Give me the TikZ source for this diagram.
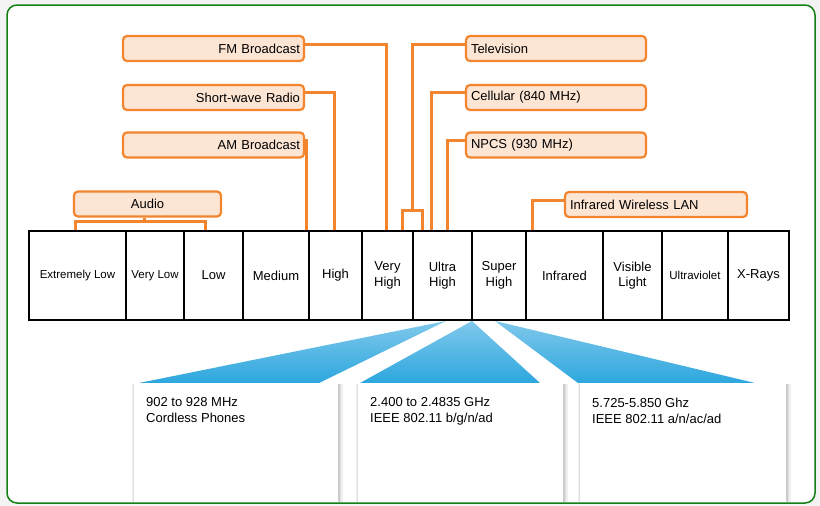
\documentclass[tikz,border=0pt]{standalone}
\usepackage{fontspec}
\setmainfont{Liberation Sans}
\usetikzlibrary{calc}
\definecolor{org}{RGB}{242,133,45}
\definecolor{peach}{RGB}{253,229,212}
\definecolor{frm}{RGB}{20,128,20}
\definecolor{fanT}{RGB}{128,200,235}
\definecolor{fanB}{RGB}{45,167,222}
\definecolor{outside}{RGB}{243,243,243}
\pgfdeclarelayer{bg}
\pgfdeclarelayer{mid}
\pgfsetlayers{bg,mid,main}
\tikzset{
  ltag/.style={draw=org, fill=peach, line width=2.2pt, rounded corners=4pt,
    minimum height=25pt, inner xsep=4pt, inner ysep=0pt, text width=173pt,
    align=right, font=\fontsize{13}{15}\selectfont},
  rtag/.style={draw=org, fill=peach, line width=2.2pt, rounded corners=4pt,
    minimum height=25pt, inner xsep=5pt, inner ysep=0pt, text width=#1,
    align=left, font=\fontsize{13}{15}\selectfont},
  ctag/.style={draw=org, fill=peach, line width=2.2pt, rounded corners=4pt,
    minimum height=25pt, minimum width=#1, inner sep=0pt,
    font=\fontsize{13}{15}\selectfont},
  cell/.style={draw=black, line width=2.2pt, minimum height=89pt, minimum width=#1,
    inner sep=1pt, align=center, font=\fontsize{13}{15.5}\selectfont},
  conn/.style={draw=org, line width=3pt},
  bbox/.style={fill=white, minimum height=119pt, minimum width=#1, inner sep=0pt, anchor=north west},
  btxt/.style={anchor=north west, inner sep=0pt, align=left, font=\fontsize{13}{16}\selectfont},
}
\begin{document}
\begin{tikzpicture}[x=1pt,y=-1pt]
\useasboundingbox (0,0) rectangle (820,506);
\begin{pgfonlayer}{bg}
  \fill[outside] (0,0) rectangle (820,506);
  \fill[white, rounded corners=10pt] (7,5) rectangle (815,503);
\end{pgfonlayer}

% spectrum cells
\node[cell=97pt] (el) at (77.5,275.5) {\fontsize{11.5}{14}\selectfont Extremely Low};
\node[cell=58pt] (vl) at (155,275.5) {\fontsize{11.5}{14}\selectfont Very Low};
\node[cell=59pt] (lo) at (213.5,275.5) {Low};
\node[cell=66pt] (me) at (276,275.5) {Medium};
\node[cell=53pt] (hi) at (335.5,275.5) {High};
\node[cell=51pt] (vh) at (387.5,275.5) {Very\\High};
\node[cell=59pt] (uh) at (442.5,275.5) {Ultra\\High};
\node[cell=54pt] (sh) at (499,275.5) {Super\\High};
\node[cell=77pt] (ir) at (564.5,275.5) {Infrared};
\node[cell=59pt] (vi) at (632.5,275.5) {Visible\\Light};
\node[cell=66pt] (uv) at (695,275.5) {\fontsize{11.5}{14}\selectfont Ultraviolet};
\node[cell=61pt] (xr) at (758.5,275.5) {X-Rays};

% tags
\node[ltag] (fm) at (213.5,48.5) {FM Broadcast};
\node[ltag] (sw) at (213.5,97.5) {Short-wave Radio};
\node[ltag] (am) at (213.5,145) {AM Broadcast};
\node[rtag=170pt] (tv) at (556,48.5) {Television};
\node[rtag=170pt] (ce) at (556,97.5) {Cellular (840 MHz)};
\node[rtag=170pt] (np) at (556,145) {NPCS (930 MHz)};
\node[ctag=147pt] (au) at (147.5,204) {Audio};
\node[rtag=172pt] (irl) at (656,204.5) {Infrared Wireless LAN};

\coordinate (tvj) at (412,210.5);
\coordinate (auj) at (144,221);

\begin{pgfonlayer}{mid}
  \draw[conn] ($(fm.east)+(0,-4.5)$) -| ($(vh.north)+(-1.5,0)$);
  \draw[conn] ($(sw.east)+(0,-5)$) -| ($(hi.north)+(-1.5,0)$);
  \draw[conn] ($(am.east)+(0,-5)$) -| ($(hi.north west)+(-1,0)$);
  \draw[conn] ($(tv.west)+(0,-4.5)$) -| (tvj);
  \draw[conn] ($(vh.north east)+(-12,0)$) |- (tvj) -| ($(uh.north west)+(11,0)$);
  \draw[conn] ($(ce.west)+(0,-5)$) -| ($(uh.north west)+(20,0)$);
  \draw[conn] ($(np.west)+(0,-5)$) -| ($(uh.north west)+(36,0)$);
  \draw[conn] ($(irl.west)+(0,-4)$) -| ($(ir.north west)+(8,0)$);
  \draw[conn] (au.south -| auj) -- (auj);
  \draw[conn] ($(el.north west)+(48,0)$) |- (auj) -| ($(lo.north west)+(23,0)$);
\end{pgfonlayer}

% fans
\shade[top color=fanT, bottom color=fanB] (446,321) -- (319,383) -- (139,383) -- cycle;
\shade[top color=fanT, bottom color=fanB] (472,321) -- (540,383) -- (360,383) -- cycle;
\shade[top color=fanT, bottom color=fanB] (495,321) -- (755,383) -- (578,383) -- cycle;

% bottom boxes with soft shadows
\foreach \a/\b in {134/338, 358/563, 580/786}{
  \fill[black!6] (\a-2,384) rectangle (\b+5,502);
  \fill[black!12] (\a-1,384) rectangle (\b+3,502);
  \fill[black!20] (\a,384) rectangle (\b+1.5,502);
}
\node[bbox=204pt] (b1) at (134,383) {};
\node[bbox=205pt] (b2) at (358,383) {};
\node[bbox=206pt] (b3) at (580,383) {};
\node[btxt] (t1) at ($(b1.north west)+(12,14.5)$) {902 to 928 MHz\\Cordless Phones};
\node[btxt] (t2) at ($(b2.north west)+(12,14.5)$) {2.400 to 2.4835 GHz\\IEEE 802.11 b/g/n/ad};
\node[btxt] (t3) at ($(b3.north west)+(12,14.5)$) {5.725-5.850 Ghz\\IEEE 802.11 a/n/ac/ad};

% frame border on top
\draw[frm, line width=1.5pt, rounded corners=10pt] (7,5) rectangle (815,503);
\end{tikzpicture}
\end{document}
